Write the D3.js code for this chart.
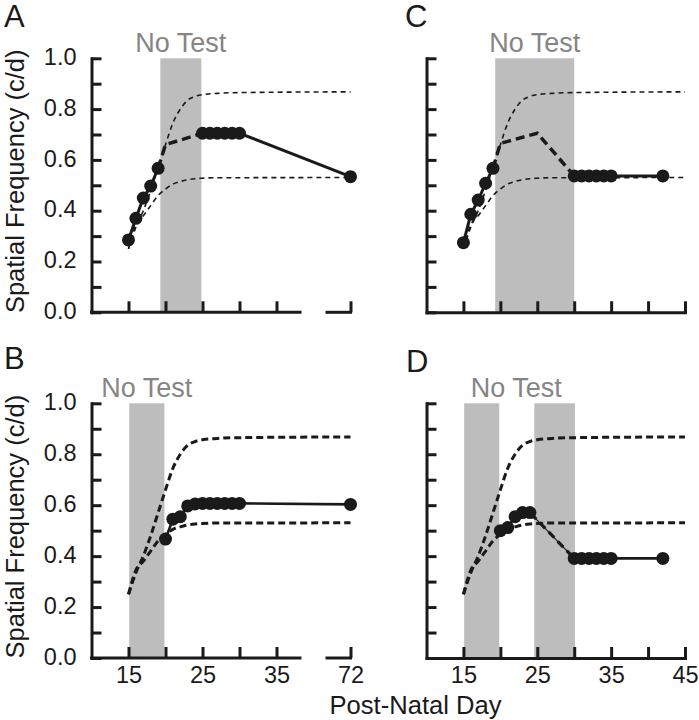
<!DOCTYPE html>
<html><head><meta charset="utf-8">
<script src="https://cdn.jsdelivr.net/npm/d3@7"></script>
<style>
body{margin:0;background:#fff}
text{font-family:"Liberation Sans",Arial,Helvetica,sans-serif}
</style>
</head><body>
<svg id="chart" width="699" height="720"></svg>
<script>
// ---------- data ----------
const yTickValues = [0,0.1,0.2,0.3,0.4,0.5,0.6,0.7,0.8,0.9,1.0];
const yLabelValues = [0,0.2,0.4,0.6,0.8,1.0];
const xTicksBroken = [15,20,25,30,35,72];
const xLabelsBroken = [15,25,35,72];
const xTicksFull = [15,20,25,30,35,40,45];
const xLabelsFull = [15,25,35,45];

// normal-development envelope (upper / lower)
const envelopeDays  = [15,16,17,18,19,20,21,22,23,24,25,27,30,72];
const upperValues   = [0.25,0.335,0.40,0.48,0.57,0.66,0.745,0.80,0.835,0.85,0.857,0.862,0.865,0.868];
const lowerValues   = [0.25,0.345,0.38,0.42,0.46,0.485,0.505,0.515,0.522,0.526,0.528,0.53,0.53,0.531];

// Panel A
const aBands = [[19.3,24.85]];
const aTestedDays = [15,16,17,18,19];
const aTestedValues = [0.285,0.37,0.45,0.497,0.567];
const aGapDays = [19,20,25];
const aGapValues = [0.567,0.66,0.705];
const aAfterDays = [25,26,27,28,29,30,72];
const aAfterValues = [0.705,0.705,0.705,0.705,0.705,0.705,0.534];

// Panel C
const cBands = [[19.3,30]];
const cTestedDays = [15,16,17,18,19];
const cTestedValues = [0.274,0.386,0.442,0.508,0.567];
const cGapDays = [19,20,25,30];
const cGapValues = [0.567,0.665,0.705,0.537];
const cAfterDays = [30,31,32,33,34,35,42];
const cAfterValues = [0.537,0.537,0.537,0.537,0.537,0.537,0.537];

// Panel B
const bBands = [[15.1,19.85]];
const bAfterDays = [20,21,22,23,24,25,26,27,28,29,30,72];
const bAfterValues = [0.467,0.545,0.555,0.597,0.605,0.607,0.607,0.607,0.607,0.607,0.607,0.603];

// Panel D
const dBands = [[15.1,19.85],[24.6,30.1]];
const dTestedDays = [20,21,22,23,24];
const dTestedValues = [0.50,0.512,0.555,0.571,0.571];
const dGapDays = [24,30];
const dGapValues = [0.571,0.391];
const dAfterDays = [30,31,32,33,34,35,42];
const dAfterValues = [0.391,0.391,0.391,0.391,0.391,0.391,0.391];

// ---------- drawing ----------
const ink = "#1a1a1a";
const svg = d3.select("#chart");
const zip = (a,b) => a.map((d,i)=>[d,b[i]]);

const yTop = d3.scaleLinear().domain([0,1]).range([312.3,58.3]);
const yBot = d3.scaleLinear().domain([0,1]).range([658,403.3]);
const xLeft = d3.scaleLinear().domain([10,40,72]).range([91.5,313.5,350.5]);
const xRight = d3.scaleLinear().domain([10,45]).range([426.5,685]).clamp(true);

const panels = [
  {letter:"A", lx:4, ly:27, x:xLeft, y:yTop, broken:true, thinEnv:true, bands:aBands,
   yLabels:true, xLabels:false,
   tested:zip(aTestedDays,aTestedValues), gap:zip(aGapDays,aGapValues), after:zip(aAfterDays,aAfterValues)},
  {letter:"C", lx:405, ly:27, x:xRight, y:yTop, broken:false, thinEnv:true, bands:cBands,
   yLabels:false, xLabels:false,
   tested:zip(cTestedDays,cTestedValues), gap:zip(cGapDays,cGapValues), after:zip(cAfterDays,cAfterValues)},
  {letter:"B", lx:4, ly:369, x:xLeft, y:yBot, broken:true, thinEnv:false, bands:bBands,
   yLabels:true, xLabels:true,
   tested:null, gap:null, after:zip(bAfterDays,bAfterValues)},
  {letter:"D", lx:406, ly:372, x:xRight, y:yBot, broken:false, thinEnv:false, bands:dBands,
   yLabels:false, xLabels:true, thinGap:true,
   tested:zip(dTestedDays,dTestedValues), gap:zip(dGapDays,dGapValues), after:zip(dAfterDays,dAfterValues)}
];

panels.forEach(p => {
  const g = svg.append("g");
  const x = p.x, y = p.y;
  const x0 = x.range()[0];

  // grey "No Test" bands
  g.selectAll("rect.band").data(p.bands).enter().append("rect")
    .attr("x", d => x(d[0])).attr("width", d => x(d[1]) - x(d[0]))
    .attr("y", y(1)).attr("height", y(0) - y(1))
    .attr("fill", "#bdbdbd");

  // "No Test" label
  const ext = [d3.min(p.bands, d=>d[0]), d3.max(p.bands, d=>d[1])];
  let cx;
  if (p.bands.length > 1) {
    cx = d3.mean(p.bands, d => (x(d[0]) + x(d[1]))/2) - 2;
  } else {
    cx = (x(ext[0]) + x(ext[1]))/2;
  }
  g.append("text").attr("x", cx).attr("y", y(1) - 6.5)
    .attr("text-anchor","middle").attr("font-size", 27).attr("fill","#858585")
    .text("No Test");

  // envelope curves
  const envLine = d3.line().curve(d3.curveMonotoneX).x(d=>x(d[0])).y(d=>y(d[1]));
  [upperValues, lowerValues].forEach(vals => {
    g.append("path").datum(zip(envelopeDays, vals))
      .attr("d", envLine).attr("fill","none").attr("stroke", ink)
      .attr("stroke-width", p.thinEnv ? 1.6 : 3)
      .attr("stroke-dasharray", p.thinEnv ? "5,4" : "7,4");
  });

  const line = d3.line().x(d=>x(d[0])).y(d=>y(d[1]));

  // predicted (no-test) segment
  if (p.gap) {
    if (p.thinGap) {
      g.append("path").datum(p.gap).attr("d", line).attr("fill","none")
        .attr("stroke", ink).attr("stroke-width", 1.2);
      g.append("path").datum(p.gap).attr("d", line).attr("fill","none")
        .attr("stroke", ink).attr("stroke-width", 3.2).attr("stroke-dasharray","8,5")
        .attr("stroke-dashoffset", -14);
    } else {
      g.append("path").datum(p.gap).attr("d", line).attr("fill","none")
        .attr("stroke", ink).attr("stroke-width", 3.5).attr("stroke-dasharray","9,5");
    }
  }

  // solid measured lines
  [p.tested, p.after].filter(Boolean).forEach(s => {
    g.append("path").datum(s).attr("d", line).attr("fill","none")
      .attr("stroke", ink).attr("stroke-width", p.thinEnv ? 3 : 2.6);
  });

  // circles
  [p.tested, p.after].filter(Boolean).forEach(s => {
    g.selectAll(null).data(s).enter().append("circle")
      .attr("cx", d=>x(d[0])).attr("cy", d=>y(d[1])).attr("r", 6.5)
      .attr("fill", ink);
  });

  // y axis
  const yAxis = d3.axisLeft(y).tickValues(yTickValues).tickSize(-10).tickSizeOuter(0).tickPadding(15)
    .tickFormat(d => (p.yLabels && yLabelValues.some(v => Math.abs(v-d)<1e-6)) ? d3.format(".1f")(d) : "");
  const ya = g.append("g").attr("transform", `translate(${x0},0)`).call(yAxis);
  ya.attr("font-size", 23.5).attr("font-family", null);
  ya.selectAll("text").attr("fill", ink).attr("dy","0.26em");

  // x axis
  const xTicks = p.broken ? xTicksBroken : xTicksFull;
  const xLabs = p.broken ? xLabelsBroken : xLabelsFull;
  const xAxis = d3.axisBottom(x).tickValues(xTicks).tickSize(-11).tickSizeOuter(0).tickPadding(8)
    .tickFormat(d => (p.xLabels && xLabs.includes(d)) ? String(d) : "");
  const xa = g.append("g").attr("transform", `translate(0,${y(0)})`).call(xAxis);
  xa.attr("font-size", 23.5).attr("font-family", null);
  xa.selectAll("text").attr("fill", ink);

  [ya, xa].forEach(a => {
    a.selectAll(".tick line").attr("stroke", ink).attr("stroke-width", 3);
    a.select(".domain").attr("stroke", ink).attr("stroke-width", 3).attr("stroke-linecap","square");
  });

  if (p.broken) {
    xa.select(".domain").remove();
    const r = x.range();
    const segs = [[r[0], 300], [327, r[2]]];
    xa.selectAll("line.seg").data(segs).enter().append("line")
      .attr("x1", d=>d[0]).attr("x2", d=>d[1]).attr("y1",0).attr("y2",0)
      .attr("stroke", ink).attr("stroke-width",3).attr("stroke-linecap","square");
  }

  // panel letter
  g.append("text").attr("x", p.lx).attr("y", p.ly).attr("font-size", 31).attr("fill", ink).text(p.letter);

  // y axis title
  if (p.yLabels) {
    const cy = (y(0) + y(1))/2 - 4;
    g.append("text").attr("transform", `translate(24,${cy}) rotate(-90)`)
      .attr("text-anchor","middle").attr("font-size", 25.5).attr("fill", ink)
      .text("Spatial Frequency (c/d)");
  }
});

svg.append("text").attr("x", 415.5).attr("y", 713.5).attr("text-anchor","middle")
  .attr("font-size", 25.6).attr("fill", ink).text("Post-Natal Day");
</script>
</body></html>
